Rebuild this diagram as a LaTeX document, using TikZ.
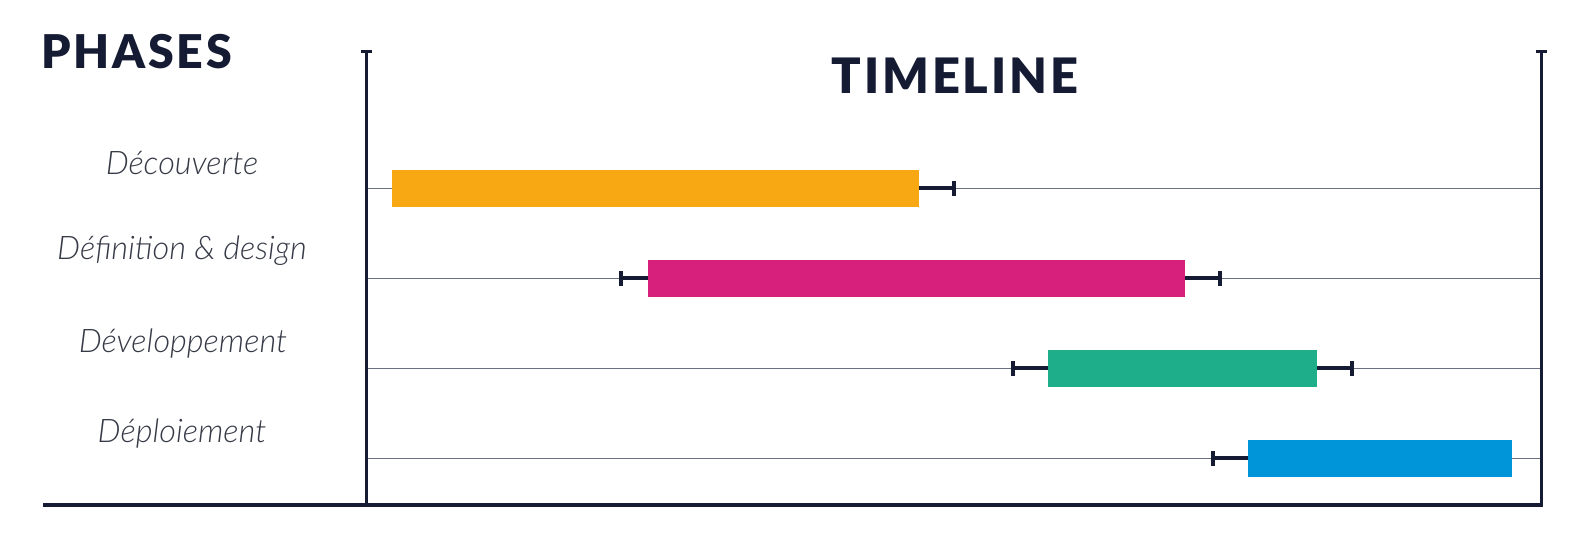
\documentclass[tikz,border=0pt]{standalone}
\usepackage{fontspec}
\usepackage{tikz}
\usetikzlibrary{arrows.meta,positioning}
\usepackage{xcolor}
\newfontfamily\phaselabelfont{Lato Light Italic}
\newfontfamily\phaseheadfont{Lato Black}[LetterSpace=6]
\newfontfamily\timelineheadfont{Lato Black}[LetterSpace=6]
\definecolor{timeline-navy}{HTML}{141b33}
\definecolor{timeline-grey}{HTML}{6b7080}
\definecolor{timeline-text}{HTML}{363a46}
\definecolor{phase-orange}{HTML}{f8a813}
\definecolor{phase-pink}{HTML}{d6207c}
\definecolor{phase-green}{HTML}{1fae8a}
\definecolor{phase-blue}{HTML}{0094d9}

\begin{document}
\begin{tikzpicture}[x=1pt, y=-1pt]
  \tikzstyle{axis}=[timeline-navy, line width=2.7pt]
  \tikzstyle{gridline}=[timeline-grey, line width=1.2pt]
  \tikzstyle{bar}=[draw=none, inner sep=0pt, minimum height=36.7pt, anchor=west]
  \tikzstyle{whisker}=[timeline-navy, line width=3.7pt, -{Bar[width=14.7pt]}]
  \tikzstyle{phase}=[timeline-text, anchor=base, inner sep=0pt, font=\phaselabelfont\fontsize{32.5}{36}\selectfont]
  \useasboundingbox (0,0) rectangle (1584,537);

  %% Titles
  \node[timeline-navy, anchor=base west, inner sep=0pt, font=\phaseheadfont\fontsize{46.5}{50}\selectfont]
    (phases) at (41,68.3) {PHASES};
  \node[timeline-navy, anchor=base, inner sep=0pt, font=\timelineheadfont\fontsize{48.8}{52}\selectfont]
    (timeline) at (955,93.3) {TIMELINE};

  %% Axes
  \coordinate (ltop)   at (366.3,50);
  \coordinate (lbot)   at (366.3,505);
  \coordinate (rtop)   at (1541.3,50);
  \coordinate (rbot)   at (1541.3,505);
  \coordinate (origin) at (43,505);
  \coordinate (end)    at (1543,505);

  %% Rows
  \coordinate (row1) at (366.3,188.3);
  \coordinate (row2) at (366.3,278.3);
  \coordinate (row3) at (366.3,368.3);
  \coordinate (row4) at (366.3,458.3);

  \path[gridline]
    (row1) edge (row1 -| rtop)
    (row2) edge (row2 -| rtop)
    (row3) edge (row3 -| rtop)
    (row4) edge (row4 -| rtop);

  %% Phase labels
  \node[phase] (dec) at (182,175)   {Découverte};
  \node[phase] (def) at (182,260)   {Définition \& design};
  \node[phase] (dev) at (183,352.7) {Développement};
  \node[phase] (dep) at (182,442.7) {Déploiement};

  %% Bars
  \node[bar, fill=phase-orange, minimum width=527pt] (decbar) at (392,188.3)  {};
  \node[bar, fill=phase-pink,   minimum width=537pt] (defbar) at (648,278.3)  {};
  \node[bar, fill=phase-green,  minimum width=269pt] (devbar) at (1048,368.3) {};
  \node[bar, fill=phase-blue,   minimum width=264pt] (depbar) at (1248,458.3) {};

  %% Slack
  \coordinate (decend)   at (956,188.3);
  \coordinate (defstart) at (619,278.3);
  \coordinate (defend)   at (1222,278.3);
  \coordinate (devstart) at (1011,368.3);
  \coordinate (devend)   at (1354,368.3);
  \coordinate (depstart) at (1211,458.3);

  \path[whisker]
    (decbar.east) edge (decend)
    (defbar.west) edge (defstart)
    (defbar.east) edge (defend)
    (devbar.west) edge (devstart)
    (devbar.east) edge (devend)
    (depbar.west) edge (depstart);

  %% Frame
  \draw[axis, {Bar[width=11pt]}-] (ltop) -- (lbot);
  \draw[axis, {Bar[width=11pt]}-] (rtop) -- (rbot);
  \draw[axis, line width=3.4pt] (origin) -- (end);
\end{tikzpicture}
\end{document}
